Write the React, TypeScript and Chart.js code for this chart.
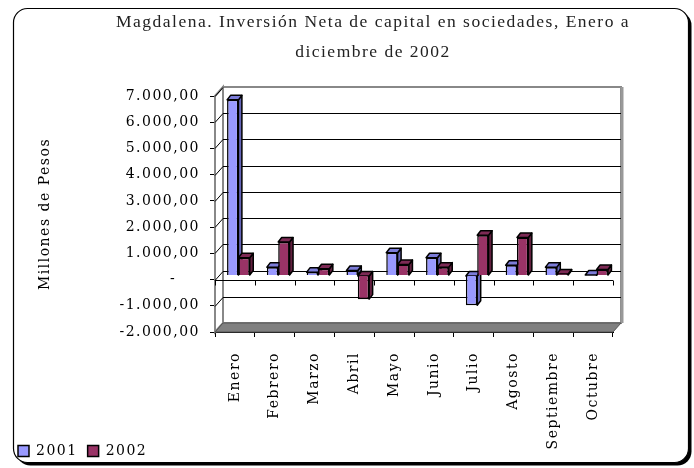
import React, { useEffect, useRef } from "react";
import { Chart, registerables } from "chart.js";

Chart.register(...registerables);

const categories = ["Enero", "Febrero", "Marzo", "Abril", "Mayo", "Junio", "Julio", "Agosto", "Septiembre", "Octubre"];
const seriesNames = ["2001", "2002"];
const values2001 = [6700, 320, 130, 190, 870, 680, -1130, 390, 320, 10];
const values2002 = [680, 1280, 260, -900, 420, 320, 1540, 1450, 60, 230];
const titleLines = ["Magdalena. Inversión Neta de capital en sociedades, Enero a", "diciembre de 2002"];
const yAxisTitle = "Millones de Pesos";
const yMin = -2000;
const yMax = 7000;
const yStep = 1000;

const W = 694;
const H = 468;
const AREA_BOTTOM = 332;
const PAD_BOTTOM = 8;
const WALL_DX = 8;
const WALL_DY = 9;
const BAR_SHIFT_X = 3.5;
const BAR_SHIFT_Y = -4;
const BAR_DX = 3.5;
const BAR_DY = 4.5;
const frontColors = ["#9999ff", "#993366"];
const topColors = ["#7c7cd8", "#7d2a55"];
const sideColors = ["#6565b8", "#62203f"];
const SPACING = "1.5px";

function fmt(v: number): string {
  if (v === 0) return "-    ";
  const neg = v < 0;
  const s = Math.abs(v).toFixed(2);
  const [i, d] = s.split(".");
  const ii = i.replace(/\B(?=(\d{3})+(?!\d))/g, ".");
  return (neg ? "-" : "") + ii + "," + d;
}

const decor = {
  id: "decor",
  afterInit(chart: any) {
    chart.ctx.letterSpacing = SPACING;
  },
  beforeUpdate(chart: any) {
    chart.ctx.letterSpacing = SPACING;
  },
  afterLayout(chart: any) {
    const t = chart.titleBlock;
    if (t) {
      const w = t.right - t.left;
      t.left = 373 - w / 2;
      t.right = 373 + w / 2;
    }
    const lg = chart.legend;
    if (lg) {
      const w = lg.right - lg.left;
      lg.left = 8;
      lg.right = 8 + w;
      lg.top += 8;
      lg.bottom += 8;
    }
    const xs = chart.scales.x;
    if (xs) {
      xs.bottom = H - 3;
    }
  },
  beforeDraw(chart: any) {
    const ctx = chart.ctx;
    ctx.letterSpacing = SPACING;
    ctx.save();
    ctx.beginPath();
    ctx.roundRect(16.5, 11.5, 675, 454, 14);
    ctx.fillStyle = "#000";
    ctx.fill();
    ctx.beginPath();
    ctx.roundRect(13.5, 8.5, 675, 454, 14);
    ctx.fillStyle = "#fff";
    ctx.fill();
    ctx.lineWidth = 1.2;
    ctx.strokeStyle = "#000";
    ctx.stroke();
    ctx.restore();
  },
  beforeDatasetsDraw(chart: any) {
    const ctx = chart.ctx;
    const { left, right, top, bottom } = chart.chartArea;
    const ys = chart.scales.y;
    ctx.save();
    // left wall
    ctx.beginPath();
    ctx.moveTo(left, top);
    ctx.lineTo(left + WALL_DX, top - WALL_DY);
    ctx.lineTo(left + WALL_DX, bottom - WALL_DY);
    ctx.lineTo(left, bottom);
    ctx.closePath();
    ctx.fillStyle = "#fff";
    ctx.fill();
    ctx.strokeStyle = "#888";
    ctx.lineWidth = 2;
    ctx.stroke();
    // back wall
    ctx.beginPath();
    ctx.rect(left + WALL_DX, top - WALL_DY, right - left, bottom - top);
    ctx.strokeStyle = "#888";
    ctx.lineWidth = 2;
    ctx.stroke();
    ctx.beginPath();
    ctx.moveTo(right + WALL_DX + 1, top - WALL_DY);
    ctx.lineTo(right + WALL_DX + 1, bottom - WALL_DY);
    ctx.lineWidth = 3;
    ctx.strokeStyle = "#999";
    ctx.stroke();
    // gridlines
    ctx.lineWidth = 1;
    ctx.strokeStyle = "#000";
    for (let v = yMin + yStep; v < yMax; v += yStep) {
      const py = Math.round(ys.getPixelForValue(v)) + 0.5;
      ctx.beginPath();
      ctx.moveTo(left + WALL_DX, py - WALL_DY);
      ctx.lineTo(right + WALL_DX, py - WALL_DY);
      ctx.stroke();
    }
    for (let v = yMin; v <= yMax; v += yStep) {
      const py = Math.round(ys.getPixelForValue(v)) + 0.5;
      ctx.beginPath();
      ctx.moveTo(left, py);
      ctx.lineTo(left + WALL_DX, py - WALL_DY);
      ctx.stroke();
    }
    // floor
    ctx.beginPath();
    ctx.moveTo(left, bottom);
    ctx.lineTo(left + WALL_DX, bottom - WALL_DY);
    ctx.lineTo(right + WALL_DX, bottom - WALL_DY);
    ctx.lineTo(right, bottom);
    ctx.closePath();
    ctx.fillStyle = "#808080";
    ctx.fill();
    ctx.strokeStyle = "#555";
    ctx.lineWidth = 1;
    ctx.stroke();
    // front zero line with ticks
    const zy = Math.round(ys.getPixelForValue(0)) + 0.5;
    ctx.beginPath();
    ctx.moveTo(left, zy);
    ctx.lineTo(right, zy);
    ctx.strokeStyle = "#000";
    ctx.stroke();
    const n = categories.length;
    for (let i = 0; i <= n; i++) {
      const px = Math.round(left + ((right - left) * i) / n) + 0.5;
      ctx.beginPath();
      ctx.moveTo(px, zy);
      ctx.lineTo(px, zy + 5);
      ctx.stroke();
    }
    ctx.restore();

    // bars: shift to mid depth and draw 3D faces
    ctx.save();
    ctx.translate(BAR_SHIFT_X, BAR_SHIFT_Y);
    ctx.lineWidth = 1.5;
    ctx.strokeStyle = "#000";
    ctx.lineJoin = "round";
    for (let di = 0; di < chart.data.datasets.length; di++) {
      const meta = chart.getDatasetMeta(di);
      meta.data.forEach((bar: any) => {
        const p = bar.getProps(["x", "y", "base", "width"], true);
        const l = p.x - p.width / 2;
        const r = p.x + p.width / 2;
        const t = Math.min(p.y, p.base);
        const b = Math.max(p.y, p.base);
        ctx.beginPath();
        ctx.moveTo(r, t);
        ctx.lineTo(r + BAR_DX, t - BAR_DY);
        ctx.lineTo(r + BAR_DX, b - BAR_DY);
        ctx.lineTo(r, b);
        ctx.closePath();
        ctx.fillStyle = sideColors[di];
        ctx.fill();
        ctx.stroke();
        ctx.beginPath();
        ctx.moveTo(l, t);
        ctx.lineTo(l + BAR_DX, t - BAR_DY);
        ctx.lineTo(r + BAR_DX, t - BAR_DY);
        ctx.lineTo(r, t);
        ctx.closePath();
        ctx.fillStyle = topColors[di];
        ctx.fill();
        ctx.stroke();
      });
    }
  },
  afterDatasetsDraw(chart: any) {
    chart.ctx.restore();
  },
};

export default function App() {
  const ref = useRef<HTMLCanvasElement | null>(null);
  useEffect(() => {
    if (!ref.current) return;
    const font = { family: "'DejaVu Serif', serif", size: 14 };
    const chart = new Chart(ref.current, {
      type: "bar",
      data: {
        labels: categories,
        datasets: [
          {
            label: seriesNames[0],
            data: values2001,
            backgroundColor: frontColors[0],
            borderColor: "#000",
            borderWidth: 1.5,
          },
          {
            label: seriesNames[1],
            data: values2002,
            backgroundColor: frontColors[1],
            borderColor: "#000",
            borderWidth: 1.5,
          },
        ],
      },
      options: {
        responsive: false,
        animation: false,
        devicePixelRatio: 1,
        events: [],
        layout: { padding: { left: 13, right: 81, top: 0, bottom: PAD_BOTTOM } },
        datasets: {
          bar: { categoryPercentage: 0.57, barPercentage: 1, clip: false as any },
        },
        scales: {
          x: {
            ticks: { autoSkip: false, maxRotation: 90, minRotation: 90, font, color: "#000", padding: 15 },
            grid: { drawOnChartArea: false, tickLength: 5, color: "#000", offset: true },
            border: { color: "#000" },
            afterFit: (s: any) => {
              const lh = s.chart.legend ? s.chart.legend.height : 0;
              s.height = H - AREA_BOTTOM - PAD_BOTTOM - lh;
            },
          },
          y: {
            min: yMin,
            max: yMax,
            ticks: { stepSize: yStep, callback: (v: any) => fmt(Number(v)), font, color: "#000", padding: 10 },
            grid: { drawOnChartArea: false, tickLength: 5, color: "#000" },
            border: { color: "#000" },
            title: { display: true, text: yAxisTitle, font, color: "#000", padding: { top: 24, bottom: 0 } },
            afterFit: (s: any) => {
              s.width = 215 - 13;
            },
          },
        },
        plugins: {
          title: {
            display: true,
            text: titleLines,
            color: "#222",
            font: { family: "'Liberation Serif', serif", size: 17.5, weight: "normal", lineHeight: "30px" } as any,
            padding: { top: 7, bottom: 29 },
          },
          legend: {
            position: "bottom",
            align: "start",
            labels: { boxWidth: 11, boxHeight: 11, font, color: "#000", padding: 10 },
          },
          tooltip: { enabled: false },
        },
      },
      plugins: [decor],
    });
    return () => chart.destroy();
  }, []);
  return (
    <div style={{ position: "absolute", left: 0, top: 0, width: W, height: H, background: "#fff" }}>
      <canvas ref={ref} width={W} height={H} style={{ display: "block" }} />
    </div>
  );
}
